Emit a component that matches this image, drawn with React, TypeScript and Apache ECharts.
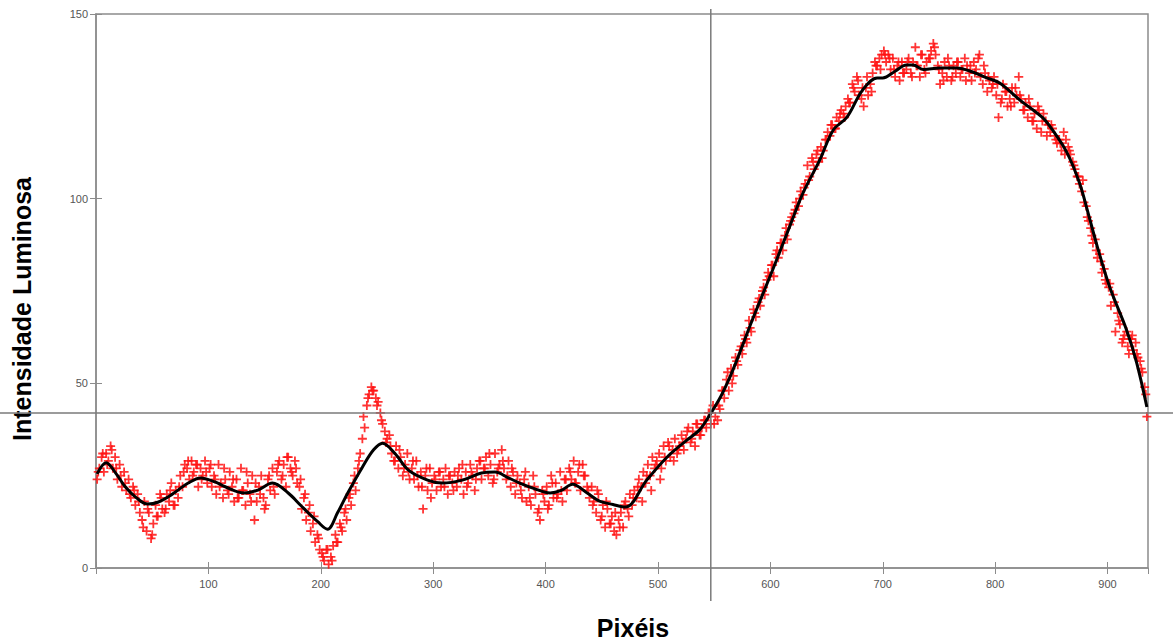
import React, { useEffect, useRef } from "react";
import * as echarts from "echarts";

// Smoothed luminous-intensity profile (pixel position, intensity)
const curveX = [1, 9, 18, 26, 36, 46, 55, 67, 82, 93, 106, 115, 132, 144, 157, 171, 182, 189, 197, 206, 215, 224, 237, 247, 255, 266, 278, 295, 308, 326, 343, 355, 367, 377, 390, 404, 414, 424, 437, 448, 460, 471, 490, 508, 526, 537, 546, 556, 564, 571, 584, 602, 617, 629, 644, 656, 668, 682, 695, 700, 711, 721, 727, 736, 751, 766, 780, 792, 804, 822, 842, 851, 864, 875, 882, 891, 902, 917, 926, 935];
const curveY = [25.5, 28.5, 25.5, 22, 19, 17.3, 17.8, 19.8, 23, 24.4, 23.3, 22, 20.3, 21.1, 23, 20.3, 17, 14.9, 12.6, 10.5, 15, 20.3, 27.3, 32, 33.8, 31, 26.5, 23.8, 23, 23.8, 25.7, 26, 24.4, 23, 21.5, 20.3, 21, 22.7, 20.3, 18.1, 17.2, 16.5, 23.8, 30, 34.7, 37.4, 41.4, 46.5, 51.7, 56.9, 67.2, 80.7, 92.3, 101.5, 110.5, 118.6, 122, 129.4, 132.7, 132.7, 134.5, 136.2, 136.2, 135, 135.4, 135.4, 134.3, 132.8, 131.3, 126.7, 122, 118.6, 112.4, 104.3, 96.9, 86.9, 76, 64.4, 55.5, 43.6];

// Measured intensity samples, odd pixels: one every 2 pixels starting at pixel 1
const oddStart = 1;
const oddStep = 2;
const oddY = [
  24, 27, 30, 26, 31, 29, 33, 27, 30, 24,
  28, 22, 26, 21, 24, 19, 22, 17, 20, 15,
  13, 18, 10, 15, 8, 12, 17, 14, 20, 16,
  15, 20, 18, 23, 17, 21, 19, 25, 22, 28,
  27, 24, 29, 26, 28, 22, 27, 25, 29, 23,
  27, 22, 25, 20, 28, 23, 19, 24, 21, 26,
  22, 18, 24, 19, 27, 21, 17, 23, 20, 25,
  13, 18, 22, 25, 19, 17, 24, 21, 27, 20,
  26, 29, 24, 28, 22, 30, 27, 25, 29, 23,
  22, 16, 19, 13, 15, 10, 12, 7, 9, 5,
  4, 2, 5, 1, 3, 6, 9, 7, 12, 10,
  15, 13, 19, 17, 23, 21, 27, 31, 35, 38,
  44, 47, 49, 48, 46, 45, 42, 39, 37, 35,
  36, 31, 29, 33, 27, 30, 25, 28, 31, 24,
  27, 24, 29, 22, 26, 16, 25, 21, 27, 23,
  25, 21, 26, 22, 24, 27, 20, 25, 23, 26,
  22, 27, 24, 20, 26, 23, 28, 25, 21, 27,
  29, 24, 27, 30, 25, 28, 23, 31, 26, 28,
  32, 27, 24, 29, 22, 26, 20, 25, 23, 19,
  24, 18, 22, 17, 25, 20, 15, 13, 21, 18,
  22, 17, 25, 19, 23, 20, 26, 18, 24, 21,
  27, 24, 29, 23, 26, 21, 28, 25, 22, 19,
  22, 18, 15, 20, 13, 17, 11, 16, 12, 14,
  10, 9, 13, 15, 11, 18, 16, 20, 17, 21,
  19, 24, 22, 26, 23, 28, 25, 30, 27, 29,
  31, 27, 33, 29, 34, 30, 32, 35, 31, 33,
  36, 32, 35, 38, 34, 37, 33, 39, 36, 38,
  40, 38, 42, 39, 44, 41, 40, 43, 48, 46,
  51, 48, 54, 52, 57, 55, 59, 58, 63, 61,
  67, 64, 70, 68, 72, 71, 75, 74, 78, 79,
  82, 79, 85, 84, 88, 86, 90, 89, 93, 95,
  96, 99, 98, 102, 101, 104, 109, 106, 111, 108,
  112, 110, 114, 113, 116, 118, 117, 120, 119, 122,
  121, 124, 123, 125, 127, 126, 131, 129, 133, 128,
  127, 125, 130, 128, 131, 134, 137, 136, 138, 139,
  140, 137, 139, 135, 138, 133, 136, 132, 137, 134,
  135, 138, 134, 137, 141, 136, 133, 139, 135, 137,
  138, 140, 142, 139, 136, 131, 134, 137, 133, 136,
  132, 136, 134, 137, 133, 135, 138, 136, 134, 132,
  137, 135, 138, 133, 131, 134, 129, 132, 130, 133,
  128, 122, 126, 131, 129, 125, 127, 130, 126, 128,
  133, 127, 124, 126, 122, 125, 121, 123, 119, 124,
  118, 123, 121, 120, 118, 119, 117, 115, 116, 113,
  118, 116, 114, 112, 110, 108, 106, 104, 102, 99,
  98, 94, 92, 88, 89, 84, 85, 80, 81, 77,
  76, 71, 74, 64, 69, 66, 61, 63, 64, 58,
  62, 59, 61, 57, 56, 53, 49, 41,
];

// Measured intensity samples, even pixels: one every 4 pixels starting at pixel 2
const evenStart = 2;
const evenStep = 4;
const evenY = [
  26, 31, 28, 32, 27, 25, 23, 20, 21, 18,
  11, 16, 9, 14, 19, 16, 21, 17, 22, 26,
  29, 25, 28, 24, 26, 28, 24, 22, 27, 20,
  24, 19, 21, 26, 18, 23, 20, 16, 25, 22,
  28, 25, 30, 26, 27, 24, 20, 17, 14, 8,
  3, 5, 2, 7, 11, 16, 20, 25, 29, 41,
  46, 48, 44, 40, 34, 33, 29, 32, 27, 26,
  29, 25, 22, 27, 19, 24, 26, 22, 25, 21,
  25, 28, 22, 26, 24, 29, 27, 31, 24, 27,
  29, 25, 27, 23, 21, 26, 19, 22, 16, 20,
  16, 23, 19, 21, 24, 26, 23, 28, 25, 21,
  17, 21, 14, 18, 12, 15, 11, 17, 14, 19,
  22, 18, 25, 21, 28, 24, 30, 33, 29, 32,
  34, 37, 35, 39, 36, 40, 42, 39, 44, 48,
  53, 50, 56, 60, 62, 65, 69, 73, 76, 80,
  82, 86, 88, 92, 94, 97, 100, 103, 105, 110,
  113, 111, 116, 120, 119, 123, 122, 126, 130, 132,
  130, 133, 129, 136, 135, 139, 138, 135, 137, 134,
  137, 133, 136, 139, 134, 138, 141, 135, 132, 138,
  133, 137, 135, 132, 136, 134, 139, 136, 133, 131,
  131, 127, 129, 125, 130, 128, 124, 127, 121, 125,
  121, 117, 120, 116, 115, 112, 113, 109, 106, 105,
  95, 90, 86, 83, 78, 77, 72, 67, 62, 60,
  63, 58, 54, 47,
];

// Reference crosshair (pixel, intensity)
const crossX = 547;
const crossY = 42;

const xMin = 0;
const xMax = 936;
const xInterval = 100;
const yMin = 0;
const yMax = 150;
const yInterval = 50;

const xTitle = "Pixéis";
const yTitle = "Intensidade Luminosa";

const PLUS = "path://M4,0L6,0L6,4L10,4L10,6L6,6L6,10L4,10L4,6L0,6L0,4L4,4Z";
const AXIS_COLOR = "#8c8c8c";
const LABEL_FONT = "'Liberation Sans', Arial, sans-serif";
const TITLE_FONT = "bold 25px 'Liberation Sans', Arial, sans-serif";

export default function App() {
  const ref = useRef<HTMLDivElement>(null);

  useEffect(() => {
    if (!ref.current) return;
    const chart = echarts.init(ref.current, undefined, { renderer: "svg" });

    const samples = [
      ...oddY.map((y, i) => [oddStart + i * oddStep, y]),
      ...evenY.map((y, i) => [evenStart + i * evenStep, y]),
    ];
    const curve = curveX.map((x, i) => [x, curveY[i]]);

    const xLabel = (v: number) => (v !== 0 && v % xInterval === 0 ? String(v) : "");
    const tickStyle = { show: true, inside: true, length: 6, lineStyle: { color: AXIS_COLOR } };

    chart.setOption({
      animation: false,
      backgroundColor: "#ffffff",
      grid: {
        left: 96,
        top: 14,
        right: 25,
        bottom: 76,
        show: true,
        borderColor: AXIS_COLOR,
        borderWidth: 1.5,
        containLabel: false,
      },
      xAxis: [
        {
          type: "value",
          min: xMin,
          max: xMax,
          interval: xInterval,
          axisLine: { show: true, onZero: false, lineStyle: { color: AXIS_COLOR, width: 1.5 } },
          axisTick: tickStyle,
          axisLabel: {
            color: "#555555",
            fontSize: 11,
            fontFamily: LABEL_FONT,
            margin: 10,
            showMaxLabel: false,
            formatter: xLabel,
          },
          splitLine: { show: false },
        },
        {
          type: "value",
          position: "top",
          min: xMin,
          max: xMax,
          interval: xInterval,
          axisLine: { show: false },
          axisTick: tickStyle,
          axisLabel: { show: false },
          splitLine: { show: false },
        },
      ],
      yAxis: [
        {
          type: "value",
          min: yMin,
          max: yMax,
          interval: yInterval,
          axisLine: { show: true, onZero: false, lineStyle: { color: AXIS_COLOR, width: 1.5 } },
          axisTick: tickStyle,
          axisLabel: { color: "#555555", fontSize: 11, fontFamily: LABEL_FONT, margin: 8 },
          splitLine: { show: false },
        },
        {
          type: "value",
          position: "right",
          min: yMin,
          max: yMax,
          interval: yInterval,
          axisLine: { show: false },
          axisTick: tickStyle,
          axisLabel: { show: false },
          splitLine: { show: false },
        },
      ],
      series: [
        {
          type: "scatter",
          name: "amostras",
          data: samples,
          symbol: PLUS,
          symbolSize: 9,
          itemStyle: { color: "#ff1010", opacity: 0.85 },
          z: 2,
        },
        {
          type: "line",
          name: "ajuste",
          data: curve,
          smooth: 0.35,
          showSymbol: false,
          lineStyle: { color: "#000000", width: 3 },
          z: 3,
        },
      ],
    });

    // Crosshair through the reference point, running past the plot frame
    const [px, py] = chart.convertToPixel({ gridIndex: 0 }, [crossX, crossY]) as number[];
    const [, topPx] = chart.convertToPixel({ gridIndex: 0 }, [crossX, yMax]) as number[];
    const [, botPx] = chart.convertToPixel({ gridIndex: 0 }, [crossX, yMin]) as number[];
    const w = chart.getWidth();
    chart.setOption({
      graphic: [
        {
          type: "line",
          shape: { x1: 0, y1: py, x2: w, y2: py },
          style: { stroke: "#7a7a7a", lineWidth: 1.5 },
          z: 10,
        },
        {
          type: "line",
          shape: { x1: px, y1: topPx - 5, x2: px, y2: botPx + 33 },
          style: { stroke: "#7a7a7a", lineWidth: 1.5 },
          z: 10,
        },
        {
          type: "text",
          x: 633,
          y: 628,
          style: {
            text: xTitle,
            font: TITLE_FONT,
            fill: "#000000",
            align: "center",
            verticalAlign: "middle",
          },
        },
        {
          type: "text",
          x: 22,
          y: 309,
          rotation: Math.PI / 2,
          style: {
            text: yTitle,
            font: TITLE_FONT,
            fill: "#000000",
            align: "center",
            verticalAlign: "middle",
          },
        },
      ],
    });

    return () => chart.dispose();
  }, []);

  return (
    <div
      ref={ref}
      style={{ position: "fixed", left: 0, top: 0, width: 1173, height: 644, background: "#fff" }}
    />
  );
}
